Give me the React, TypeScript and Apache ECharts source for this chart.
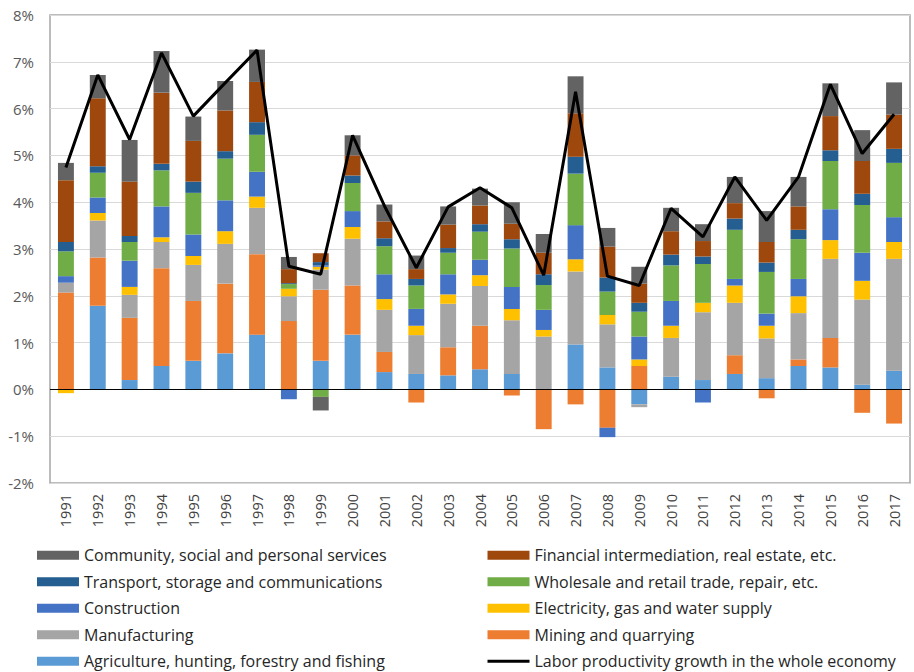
import React, { useEffect, useRef } from "react";
import * as echarts from "echarts";

const years = ["1991","1992","1993","1994","1995","1996","1997","1998","1999","2000","2001","2002","2003","2004","2005","2006","2007","2008","2009","2010","2011","2012","2013","2014","2015","2016","2017"];

const agriculture = [0, 1.79, 0.2, 0.5, 0.61, 0.77, 1.17, 0, 0.61, 1.17, 0.37, 0.33, 0.3, 0.43, 0.33, 0, 0.96, 0.47, -0.32, 0.27, 0.2, 0.33, 0.24, 0.5, 0.47, 0.1, 0.4];
const mining = [2.07, 1.03, 1.33, 2.09, 1.28, 1.49, 1.72, 1.46, 1.52, 1.05, 0.43, -0.28, 0.6, 0.93, -0.13, -0.85, -0.32, -0.82, 0.5, 0, 0, 0.4, -0.19, 0.14, 0.63, -0.5, -0.73];
const manufacturing = [0.21, 0.79, 0.49, 0.56, 0.77, 0.85, 0.99, 0.53, 0.43, 1.0, 0.9, 0.83, 0.93, 0.85, 1.15, 1.13, 1.56, 0.92, -0.06, 0.83, 1.45, 1.12, 0.85, 0.99, 1.69, 1.82, 2.39];
const electricity = [-0.08, 0.16, 0.17, 0.1, 0.19, 0.27, 0.24, 0.16, 0.06, 0.25, 0.23, 0.2, 0.2, 0.23, 0.24, 0.14, 0.26, 0.2, 0.14, 0.26, 0.2, 0.37, 0.27, 0.36, 0.4, 0.4, 0.36];
const construction = [0.14, 0.33, 0.56, 0.66, 0.46, 0.66, 0.53, -0.21, 0.03, 0.34, 0.53, 0.36, 0.43, 0.33, 0.47, 0.43, 0.73, -0.2, 0.49, 0.53, -0.28, 0.14, 0.26, 0.37, 0.66, 0.6, 0.53];
const wholesale = [0.53, 0.53, 0.4, 0.77, 0.89, 0.89, 0.79, 0.1, -0.16, 0.6, 0.6, 0.5, 0.46, 0.6, 0.82, 0.53, 1.1, 0.5, 0.53, 0.76, 0.83, 1.05, 0.89, 0.85, 1.03, 1.02, 1.16];
const transport = [0.2, 0.14, 0.13, 0.14, 0.24, 0.16, 0.27, 0.02, 0.07, 0.16, 0.17, 0.14, 0.1, 0.16, 0.2, 0.23, 0.36, 0.3, 0.19, 0.23, 0.16, 0.24, 0.2, 0.2, 0.23, 0.24, 0.3];
const financial = [1.32, 1.45, 1.16, 1.52, 0.87, 0.87, 0.86, 0.3, 0.19, 0.43, 0.36, 0.21, 0.5, 0.4, 0.33, 0.46, 0.93, 0.66, 0.41, 0.5, 0.33, 0.33, 0.44, 0.5, 0.73, 0.7, 0.73];
const community = [0.37, 0.5, 0.89, 0.89, 0.52, 0.63, 0.69, 0.26, -0.29, 0.43, 0.36, 0.29, 0.39, 0.36, 0.46, 0.4, 0.79, 0.4, 0.36, 0.5, 0.36, 0.56, 0.66, 0.63, 0.7, 0.66, 0.69];
const laborGrowth = [4.74, 6.72, 5.34, 7.19, 5.84, 6.55, 7.25, 2.63, 2.46, 5.43, 3.92, 2.6, 3.9, 4.31, 3.88, 2.44, 6.36, 2.42, 2.22, 3.87, 3.26, 4.54, 3.61, 4.54, 6.52, 5.04, 5.88];

const sectorNames = [
  "Agriculture, hunting, forestry and fishing",
  "Mining and quarrying",
  "Manufacturing",
  "Electricity, gas and water supply",
  "Construction",
  "Wholesale and retail trade, repair, etc.",
  "Transport, storage and communications",
  "Financial intermediation, real estate, etc.",
  "Community, social and personal services",
];
const sectorValues = [agriculture, mining, manufacturing, electricity, construction, wholesale, transport, financial, community];
const sectorColors = ["#5B9BD5", "#ED7D31", "#A5A5A5", "#FFC000", "#4472C4", "#70AD47", "#255E91", "#9E480E", "#636363"];
const lineName = "Labor productivity growth in the whole economy";

const leftLegend = [sectorNames[8], sectorNames[6], sectorNames[4], sectorNames[2], sectorNames[0]];
const rightLegend = [sectorNames[7], sectorNames[5], sectorNames[3], sectorNames[1], lineName];

export default function App() {
  const ref = useRef<HTMLDivElement>(null);
  useEffect(() => {
    if (!ref.current) return;
    const chart = echarts.init(ref.current, undefined, { renderer: "svg" });
    const font = "Open Sans";
    const legendCommon = {
      orient: "vertical",
      itemWidth: 42,
      itemHeight: 9,
      itemGap: 10,
      padding: 0,
      height: 126,
      textStyle: { fontFamily: font, fontSize: 16, color: "#262626", lineHeight: 16.5 },
      selectedMode: false,
    };
    const series: any[] = sectorNames.map((name, i) => ({
      name,
      type: "bar",
      stack: "total",
      barWidth: "50%",
      itemStyle: { color: sectorColors[i] },
      data: sectorValues[i],
    }));
    series.push({
      name: lineName,
      type: "line",
      symbol: "none",
      lineStyle: { color: "#000000", width: 3 },
      itemStyle: { color: "#000000" },
      data: laborGrowth,
      z: 5,
      markLine: {
        silent: true,
        symbol: "none",
        label: { show: false },
        lineStyle: { color: "#000000", width: 1.2, type: "solid" },
        data: [{ yAxis: 0 }],
      },
    });
    chart.setOption({
      animation: false,
      grid: {
        left: 50,
        right: 4,
        top: 15,
        bottom: 189,
        show: true,
        borderColor: "#a6a6a6",
        borderWidth: 1.5,
      },
      legend: [
        { ...legendCommon, left: 37, top: 547, data: leftLegend.map((n) => ({ name: n, icon: "rect" })) },
        {
          ...legendCommon,
          left: 486,
          top: 547,
          data: rightLegend.map((n) =>
            n === lineName
              ? { name: n, itemStyle: { opacity: 0 }, lineStyle: { width: 3, color: "#000000" } }
              : { name: n, icon: "rect" }
          ),
        },
      ],
      xAxis: {
        type: "category",
        data: years,
        axisLine: { onZero: false, show: false },
        axisTick: { show: false },
        axisLabel: {
          interval: 0,
          rotate: 90,
          margin: 11,
          fontFamily: font,
          fontSize: 14.5,
          color: "#404040",
        },
      },
      yAxis: {
        type: "value",
        min: -2,
        max: 8,
        interval: 1,
        axisLine: { show: false },
        axisTick: { show: false },
        splitLine: { lineStyle: { color: "#d9d9d9", width: 1.2 } },
        axisLabel: {
          formatter: (v: number) => `${v}%`,
          fontFamily: font,
          fontSize: 15,
          color: "#595959",
          margin: 16,
        },
      },
      series,
    });
    return () => chart.dispose();
  }, []);
  return <div ref={ref} style={{ width: 914, height: 672, position: "absolute", left: 0, top: 0 }} />;
}
